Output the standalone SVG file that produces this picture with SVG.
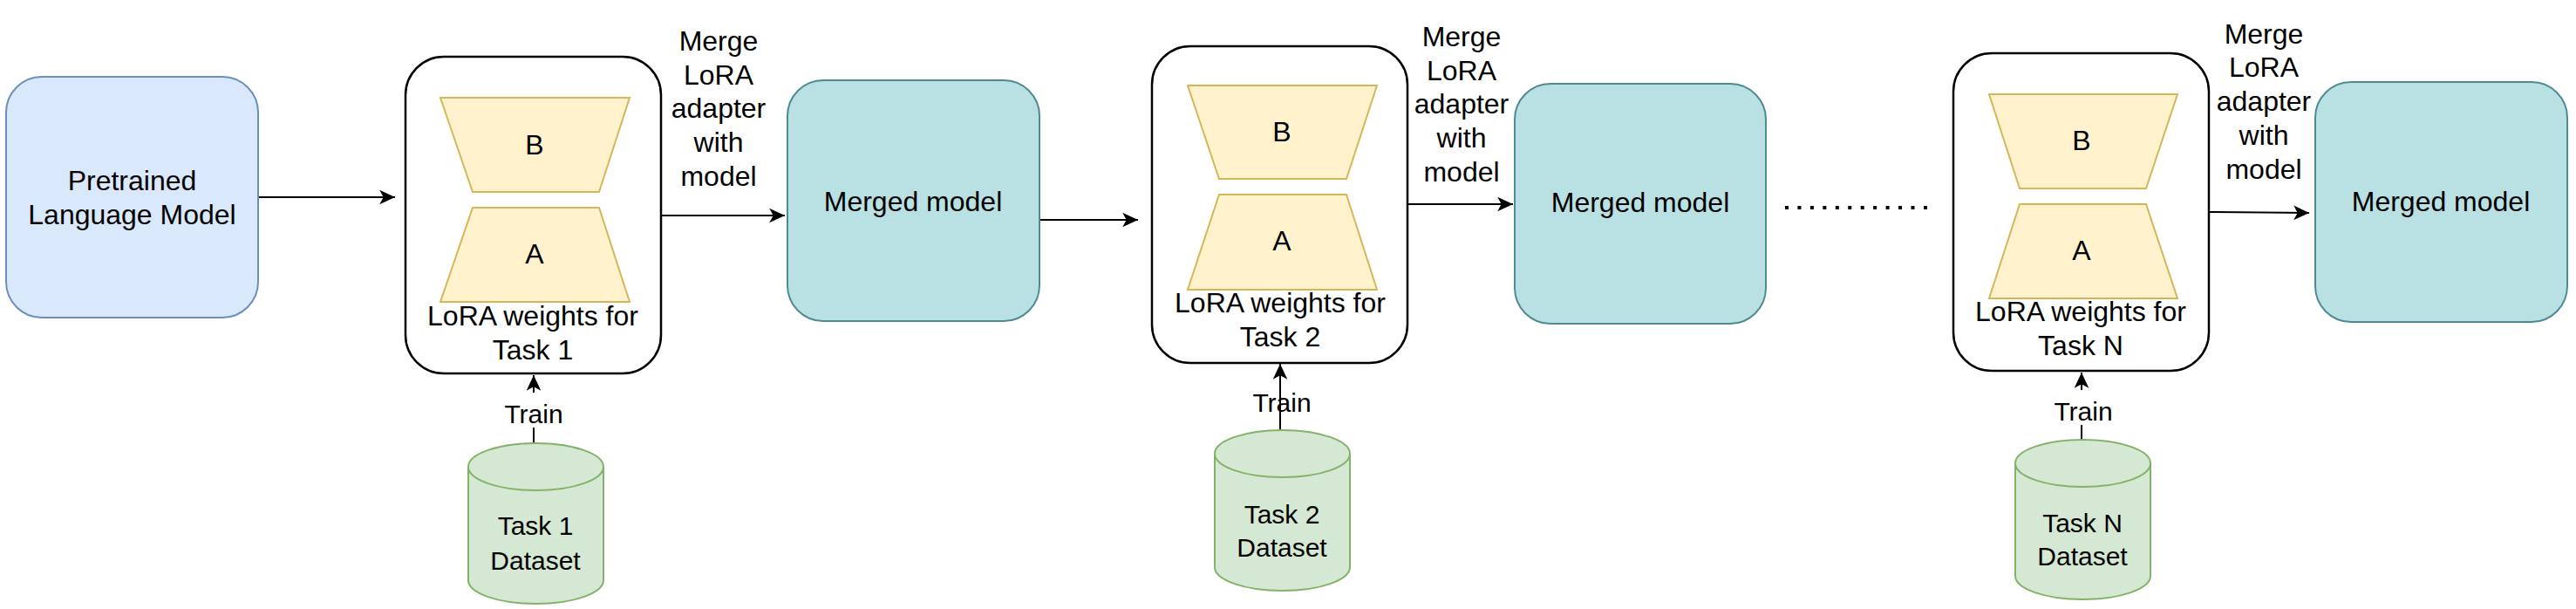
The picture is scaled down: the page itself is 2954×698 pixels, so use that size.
<svg xmlns="http://www.w3.org/2000/svg" width="2954" height="698" viewBox="0 0 2954 698">
<defs>
<style>
text{font-family:"Liberation Sans",Arial,Helvetica,sans-serif;fill:#000;text-anchor:middle}
.t32{font-size:32px}
.t30{font-size:30px}
.pre{fill:#dae8fc;stroke:#6c8ebf;stroke-width:2}
.lora{fill:#ffffff;stroke:#000;stroke-width:2.5}
.trap{fill:#fff2cc;stroke:#d6b656;stroke-width:2}
.merged{fill:#b9e0e3;stroke:#4e8b91;stroke-width:2}
.cyl{fill:#d5e8d4;stroke:#82b366;stroke-width:2}
.edge{fill:none;stroke:#000;stroke-width:2}
.dots{fill:none;stroke:#000;stroke-width:4;stroke-dasharray:4 10.45}
</style>
<marker id="arr" markerUnits="userSpaceOnUse" markerWidth="20" markerHeight="20" viewBox="-17 -9 18 18" refX="0" refY="0" orient="auto">
<path d="M-16,-7.5 L0,0 L-16,7.5 L-12,0 Z" fill="#000"/>
</marker>
</defs>
<rect width="2954" height="698" fill="#ffffff"/>

<g id="connectors">
<line class="edge" x1="296" y1="226" x2="453" y2="226" marker-end="url(#arr)"/>
<line class="edge" x1="758" y1="247" x2="900" y2="247" marker-end="url(#arr)"/>
<line class="edge" x1="1192" y1="252" x2="1305" y2="252" marker-end="url(#arr)"/>
<line class="edge" x1="1614" y1="234" x2="1735" y2="234" marker-end="url(#arr)"/>
<line class="edge" x1="2533" y1="243" x2="2648" y2="244" marker-end="url(#arr)"/>
<line class="dots" x1="2047" y1="238" x2="2210" y2="238"/>
<line class="edge" x1="612" y1="508" x2="612" y2="430" marker-end="url(#arr)"/>
<line class="edge" x1="1468" y1="493" x2="1468" y2="417" marker-end="url(#arr)"/>
<line class="edge" x1="2387" y1="504" x2="2387" y2="427" marker-end="url(#arr)"/>
<g id="label-merge-1">
<text class="t32" x="824" y="58">Merge</text>
<text class="t32" x="824" y="97">LoRA</text>
<text class="t32" x="824" y="135">adapter</text>
<text class="t32" x="824" y="174">with</text>
<text class="t32" x="824" y="213">model</text>
</g>
<g id="label-merge-2">
<text class="t32" x="1676" y="53">Merge</text>
<text class="t32" x="1676" y="92">LoRA</text>
<text class="t32" x="1676" y="130">adapter</text>
<text class="t32" x="1676" y="169">with</text>
<text class="t32" x="1676" y="208">model</text>
</g>
<g id="label-merge-n">
<text class="t32" x="2596" y="50">Merge</text>
<text class="t32" x="2596" y="88">LoRA</text>
<text class="t32" x="2596" y="127">adapter</text>
<text class="t32" x="2596" y="166">with</text>
<text class="t32" x="2596" y="205">model</text>
</g>
<g id="label-train-1">
<rect x="574" y="450" width="76" height="40" fill="#ffffff"/>
<text class="t30" x="612" y="485">Train</text>
</g>
<g id="label-train-2">
<text class="t30" x="1470" y="472">Train</text>
</g>
<g id="label-train-n">
<rect x="2350" y="447" width="78" height="40" fill="#ffffff"/>
<text class="t30" x="2389" y="482">Train</text>
</g>
</g>

<g id="pretrained">
<rect class="pre" x="7" y="88" width="289" height="276" rx="41"/>
<text class="t32" x="151.5" y="218">Pretrained</text>
<text class="t32" x="151.5" y="257">Language Model</text>
</g>

<g id="lora-1">
<rect class="lora" x="465" y="65" width="293" height="363" rx="44"/>
<polygon class="trap" points="505,112 722,112 687,220 542,220"/>
<text class="t32" x="613" y="177">B</text>
<polygon class="trap" points="542,238 687,238 722,346 505,346"/>
<text class="t32" x="613" y="302">A</text>
<text class="t32" x="611" y="373">LoRA weights for</text>
<text class="t32" x="611" y="412">Task 1</text>
</g>

<g id="merged-1">
<rect class="merged" x="903" y="92" width="289" height="276" rx="41"/>
<text class="t32" x="1047" y="242">Merged model</text>
</g>

<g id="lora-2">
<rect class="lora" x="1321" y="53" width="293" height="363" rx="44"/>
<polygon class="trap" points="1362,98 1579,98 1544,205 1398,205"/>
<text class="t32" x="1470" y="162">B</text>
<polygon class="trap" points="1398,223 1544,223 1579,332 1362,332"/>
<text class="t32" x="1470" y="287">A</text>
<text class="t32" x="1468" y="358">LoRA weights for</text>
<text class="t32" x="1468" y="397">Task 2</text>
</g>

<g id="merged-2">
<rect class="merged" x="1737" y="96" width="288" height="275" rx="41"/>
<text class="t32" x="1881" y="243">Merged model</text>
</g>

<g id="lora-n">
<rect class="lora" x="2240" y="61" width="293" height="364" rx="44"/>
<polygon class="trap" points="2281,108 2497,108 2461,216 2316,216"/>
<text class="t32" x="2387" y="172">B</text>
<polygon class="trap" points="2316,234 2461,234 2497,342 2281,342"/>
<text class="t32" x="2387" y="298">A</text>
<text class="t32" x="2386" y="368">LoRA weights for</text>
<text class="t32" x="2386" y="407">Task N</text>
</g>

<g id="merged-n">
<rect class="merged" x="2655" y="94" width="289" height="275" rx="41"/>
<text class="t32" x="2799" y="242">Merged model</text>
</g>

<g id="dataset-1">
<path class="cyl" d="M537,535 A77.5,27 0 0 1 692,535 L692,665 A77.5,27 0 0 1 537,665 Z"/>
<path class="cyl" d="M537,535 A77.5,27 0 0 0 692,535" fill="none"/>
<text class="t30" x="614" y="613">Task 1</text>
<text class="t30" x="614" y="653">Dataset</text>
</g>

<g id="dataset-2">
<path class="cyl" d="M1393,520 A77.5,27 0 0 1 1548,520 L1548,650 A77.5,27 0 0 1 1393,650 Z"/>
<path class="cyl" d="M1393,520 A77.5,27 0 0 0 1548,520" fill="none"/>
<text class="t30" x="1470" y="600">Task 2</text>
<text class="t30" x="1470" y="638">Dataset</text>
</g>

<g id="dataset-n">
<path class="cyl" d="M2311,531 A77.5,27 0 0 1 2466,531 L2466,660 A77.5,27 0 0 1 2311,660 Z"/>
<path class="cyl" d="M2311,531 A77.5,27 0 0 0 2466,531" fill="none"/>
<text class="t30" x="2388" y="610">Task N</text>
<text class="t30" x="2388" y="648">Dataset</text>
</g>
</svg>
